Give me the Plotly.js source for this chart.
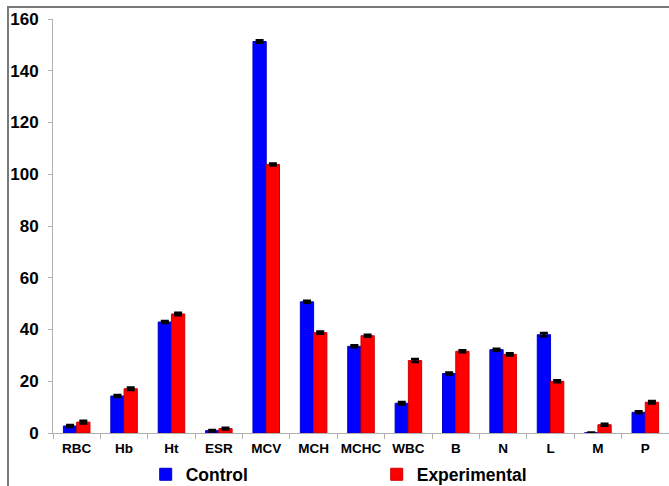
<!DOCTYPE html>
<html>
<head>
<meta charset="utf-8">
<script src="https://cdn.plot.ly/plotly-3.0.1.min.js"></script>
<style>
  html, body { margin: 0; padding: 0; background: #fff; }
  #wrap { position: relative; width: 669px; height: 486px; overflow: hidden; }
  #plot { width: 669px; height: 486px; }
  #frame { position: absolute; left: 7px; top: 6px; width: 700px; height: 600px;
           border-left: 2px solid #7a7a7a; border-top: 2px solid #7a7a7a; pointer-events: none; }
</style>
</head>
<body>
<div id="wrap">
  <div id="plot"></div>
  <div id="frame"></div>
</div>
<script>
const categories = ["RBC", "Hb", "Ht", "ESR", "MCV", "MCH", "MCHC", "WBC", "B", "N", "L", "M", "P"];
const controlValues = [2.7, 14.3, 42.9, 0.9, 151.3, 50.7, 33.5, 11.5, 23.0, 32.2, 38.0, 0.1, 8.0];
const experimentalValues = [4.2, 17.1, 46.0, 1.7, 103.8, 38.8, 37.6, 28.0, 31.6, 30.4, 20.0, 3.2, 11.9];
const controlErrors = [0.4, 0.4, 0.4, 0.3, 0.5, 0.4, 0.4, 0.5, 0.4, 0.4, 0.6, 0.1, 0.4];
const experimentalErrors = [0.5, 0.5, 0.5, 0.3, 0.4, 0.4, 0.4, 0.6, 0.4, 0.4, 0.4, 0.4, 0.5];
const yTicks = [0, 20, 40, 60, 80, 100, 120, 140, 160];

const font = "Liberation Sans, Arial, sans-serif";

const traces = [
  {
    type: "bar", name: "Control", x: categories, y: controlValues,
    marker: { color: "#0000ff", line: { color: "#0000c8", width: 1 } },
    error_y: { type: "data", array: controlErrors, visible: true, color: "#000", thickness: 2.5, width: 4 },
    legend: "legend"
  },
  {
    type: "bar", name: "Experimental", x: categories, y: experimentalValues,
    marker: { color: "#ff0000", line: { color: "#d00000", width: 1 } },
    error_y: { type: "data", array: experimentalErrors, visible: true, color: "#000", thickness: 2.5, width: 4 },
    legend: "legend2"
  }
];

const legendFont = { family: font, size: 17.5, color: "#000", weight: "bold" };

const layout = {
  width: 669, height: 486,
  margin: { l: 53, r: 0, t: 19, b: 53, autoexpand: false },
  paper_bgcolor: "#fff", plot_bgcolor: "#fff",
  barmode: "group", bargap: 0.44, bargroupgap: 0,
  font: { family: font, color: "#000" },
  xaxis: {
    type: "category",
    showline: true, linecolor: "#b0b0b0", linewidth: 1,
    ticks: "outside", tickson: "boundaries", ticklen: 5, tickcolor: "#b0b0b0",
    tickangle: 0, ticklabelstandoff: 3,
    tickfont: { family: font, size: 13.5, color: "#000", weight: "bold" },
    showgrid: false, zeroline: false, fixedrange: true
  },
  yaxis: {
    range: [0, 160], tickvals: yTicks, ticktext: yTicks.map(String),
    showline: true, linecolor: "#b0b0b0", linewidth: 1,
    ticks: "outside", ticklen: 4, tickcolor: "#b0b0b0",
    ticklabelstandoff: 6,
    tickfont: { family: font, size: 17, color: "#000", weight: "bold" },
    showgrid: false, zeroline: false, fixedrange: true
  },
  showlegend: true,
  legend: {
    orientation: "h", x: 0.1505, xanchor: "left", y: -0.1, yanchor: "middle",
    font: legendFont, bgcolor: "rgba(0,0,0,0)", itemwidth: 30
  },
  legend2: {
    orientation: "h", x: 0.5255, xanchor: "left", y: -0.1, yanchor: "middle",
    font: legendFont, bgcolor: "rgba(0,0,0,0)", itemwidth: 30
  }
};

Plotly.newPlot("plot", traces, layout, { displayModeBar: false, staticPlot: true });
</script>
</body>
</html>
